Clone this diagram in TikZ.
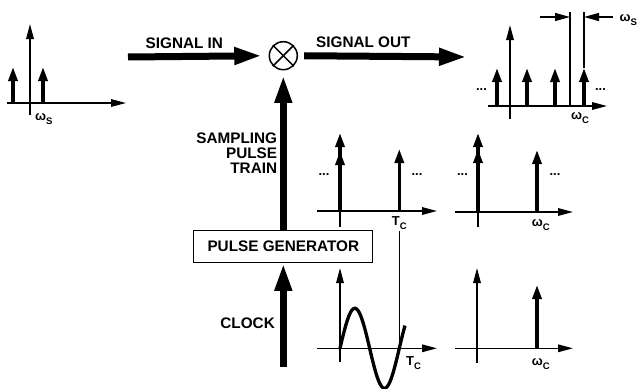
\documentclass[tikz,border=0pt]{standalone}
\usepackage{fontspec}
\setmainfont{Liberation Sans}
\usetikzlibrary{positioning,calc,arrows.meta}

\newcommand{\lowsub}[1]{\raisebox{-4pt}{\fontsize{9.5}{10}\selectfont #1}}

\begin{document}
\begin{tikzpicture}[x=1pt,y=-1pt,
    lbl/.style={font=\fontsize{15.3}{15.3}\selectfont\bfseries,inner sep=0pt},
    sym/.style={font=\fontsize{13}{14}\selectfont\bfseries,inner sep=0pt,anchor=base west},
    dots/.style={font=\fontsize{13}{13}\selectfont\bfseries,inner sep=0pt},
    axis/.style={line width=1.6pt,-{Triangle[length=15pt,width=7.5pt]}},
    imp/.style={line width=3.2pt,-{Triangle[length=14pt,width=9pt]}},
    fat/.style={line width=7pt,-{Triangle[length=28pt,width=16pt]}},
    thin/.style={line width=1.2pt},
    dimarrow/.style={line width=1.2pt,-{Triangle[length=15pt,width=8pt]}}]

\useasboundingbox (0,0) rectangle (639,388);

% Mixer et generateur
\node[circle,draw,line width=1.5pt,minimum size=28pt,inner sep=0pt] (mix) at (283.3,55.7) {};
\draw[line width=1.5pt] (mix.north west) -- (mix.south east) (mix.north east) -- (mix.south west);
\node[draw,line width=1.3pt,minimum width=179pt,minimum height=31.6pt,lbl] (pgen) at (283.3,246.5) {PULSE GENERATOR};

% Chemin du signal
\coordinate (sigin) at (128,57);
\coordinate (sigout) at (467,57);
\coordinate (clk) at (283.3,367);
\draw[fat,shorten >=6.3pt] (sigin) -- (mix.west);
\draw[fat,shorten <=6pt] (mix.east) -- (sigout);
\draw[fat,shorten >=4.5pt] (pgen.north) -- (mix.south);
\draw[fat] (clk) -- (pgen.south);

% Textes
\node[lbl,anchor=base west] (tin) at (145.5,48.3) {SIGNAL IN};
\node[lbl,anchor=base west] (tout) at (316,47.7) {SIGNAL OUT};
\node[lbl,anchor=east,align=right] (tspt) at (277.3,153.3) {SAMPLING\\PULSE\\TRAIN};
\node[lbl,anchor=base east] (tclk) at (275,328.3) {CLOCK};

% Spectre d'entree
\draw[axis] (7,103) -- (126,103);
\draw[axis] (30,115) -- (30,24);
\foreach \x in {13,43} \draw[imp] (\x,103) -- (\x,67);
\node[sym] (ws1) at (35,120) {ω\lowsub{S}};

% Spectre de sortie
\draw[axis] (488,106) -- (607,106);
\draw[axis] (510,119) -- (510,25);
\foreach \x in {497,527,555,584} \draw[imp] (\x,106) -- (\x,68);
\node[dots] (d1) at (481.5,90) {...};
\node[dots] (d2) at (600.5,90) {...};
\coordinate (c1) at (570,106);
\coordinate (c2) at (584,68);
\draw[thin] (c1) -- (570,12);
\draw[thin] (c2) -- (584,12);
\draw[dimarrow] (540,17) -- (c1 |- 0,17);
\draw[dimarrow] (613,17) -- (c2 |- 0,17);
\node[sym] (ws2) at (619.5,21) {ω\lowsub{S}};
\node[sym] (wc1) at (571,119.5) {ω\lowsub{C}};

% Train d'impulsions
\draw[axis] (317,211) -- (437,211);
\draw[thin] (340,227) -- (340,211);
\draw[imp] (340,211) -- (340,133);
\draw[imp] (340,211) -- (340,151);
\draw[imp] (399.3,211) -- (399.3,149);
\node[dots] (d3) at (324,175) {...};
\node[dots] (d4) at (417,175) {...};
\node[sym] (tc1) at (391.7,225) {T\lowsub{C}};

% Spectre du train
\draw[axis] (455,212) -- (573,212);
\draw[thin] (478,227) -- (478,212);
\draw[imp] (478,212) -- (478,133);
\draw[imp] (478,212) -- (478,149);
\draw[imp] (537,212) -- (537,150);
\node[dots] (d5) at (462.5,175) {...};
\node[dots] (d6) at (555,175) {...};
\node[sym] (wc2) at (531.7,226.5) {ω\lowsub{C}};

% Horloge
\draw[axis] (317,348.3) -- (437,348.3);
\draw[axis] (340,362) -- (340,268);
\draw[line width=3.3pt,domain=0:65,samples=60,smooth] plot ({340+\x},{348.3-40*sin(\x/59.3*360)});
\coordinate (zc) at (399.3,348.3);
\draw[thin,shorten <=2pt] (zc |- tc1.south) -- (zc);
\node[sym] (tc2) at (406,365) {T\lowsub{C}};

% Spectre de l'horloge
\draw[axis] (455,348.3) -- (573,348.3);
\draw[axis] (477,363) -- (477,268);
\draw[imp] (537,348.3) -- (537,285);
\node[sym] (wc3) at (531.7,365) {ω\lowsub{C}};

\end{tikzpicture}
\end{document}
